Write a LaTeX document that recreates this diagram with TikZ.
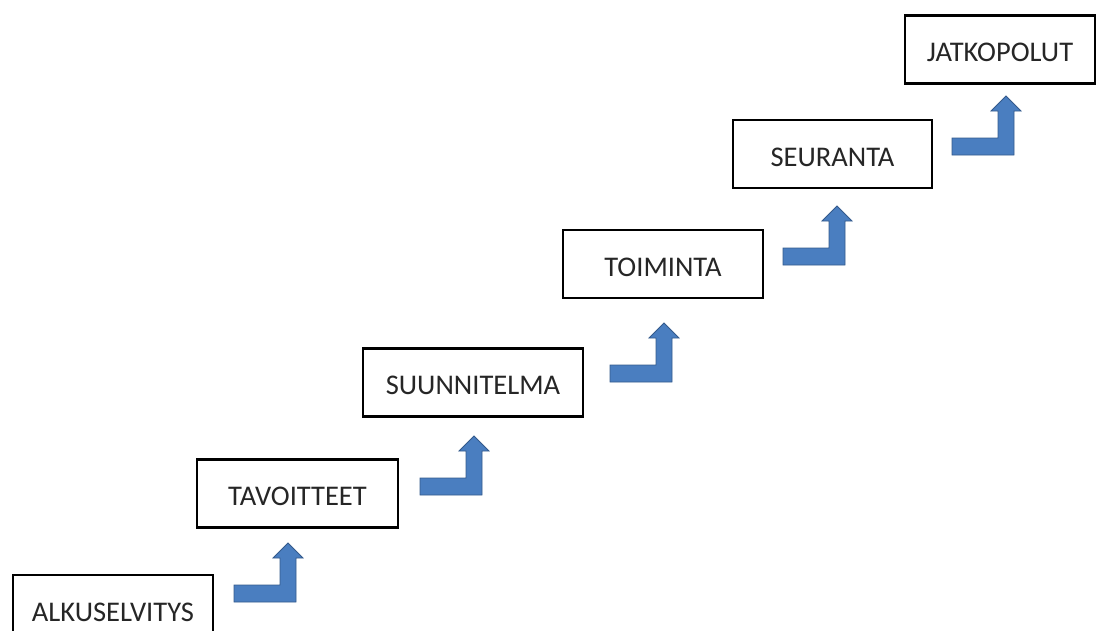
\documentclass[tikz,border=0pt]{standalone}
\usepackage{fontspec}
\setmainfont{Carlito}
\usetikzlibrary{positioning}
\definecolor{stepblue}{RGB}{74,126,192}
\definecolor{stepedge}{RGB}{52,90,140}

\begin{document}
\begin{tikzpicture}[x=1pt, y=-1pt,
    stage/.style={draw, line width=2.4pt, fill=white, inner sep=0pt, text=black!85,
        minimum height=68pt, text height=24pt, text depth=0pt,
        font=\fontsize{28.5}{31}\selectfont},
    upstep/.pic={\filldraw[fill=stepblue, draw=stepedge, line width=0.8pt, line join=miter]
        (0,0) -- (0,-17) -- (46,-17) -- (46,-44) -- (39,-44) -- (54,-59)
        -- (69,-44) -- (62,-44) -- (62,0) -- cycle;}]
    \useasboundingbox (0,0) rectangle (1097,630);
    \clip (0,0) rectangle (1097,630);
    % the steps
    \node[stage, minimum width=200pt] (alku)    at (113,609)    {ALKUSELVITYS};
    \node[stage, minimum width=201pt] (tavoite) at (297.5,493.5) {TAVOITTEET};
    \node[stage, minimum width=220pt] (suunn)   at (473,382.5)  {SUUNNITELMA};
    \node[stage, minimum width=200pt] (toim)    at (663,264)    {TOIMINTA};
    \node[stage, minimum width=199pt] (seur)    at (832.5,154)  {SEURANTA};
    \node[stage, minimum width=190pt] (jatko)   at (1000,49.5)  {JATKOPOLUT};
    % arrows between the steps
    \pic (up1) at (234,602) {upstep};
    \pic (up2) at (420,495) {upstep};
    \pic (up3) at (610,382) {upstep};
    \pic (up4) at (783,265) {upstep};
    \pic (up5) at (952,155) {upstep};
\end{tikzpicture}
\end{document}
